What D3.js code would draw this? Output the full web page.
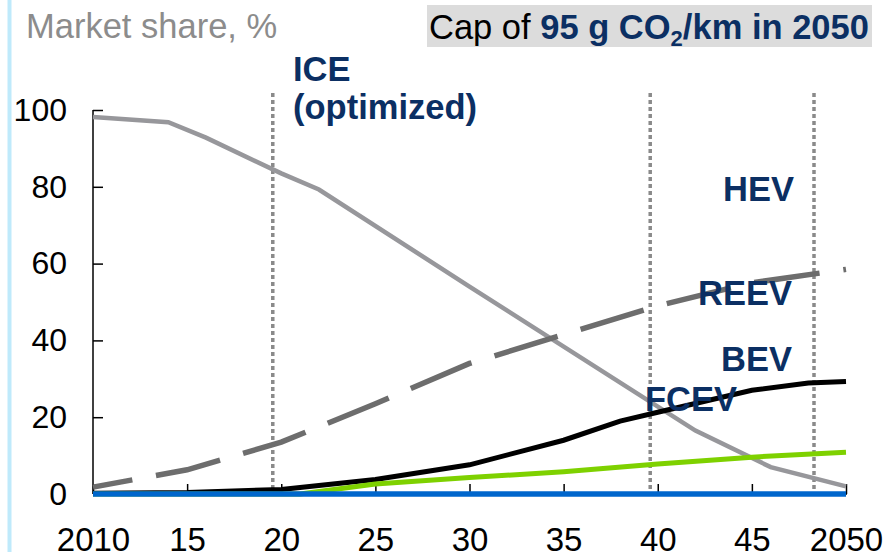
<!DOCTYPE html>
<html>
<head>
<meta charset="utf-8">
<script src="https://cdn.jsdelivr.net/npm/d3@7"></script>
<style>
  body { margin: 0; background: #fff; }
  svg { display: block; font-family: "Liberation Sans", Arial, sans-serif; }
</style>
</head>
<body>
<div id="container"></div>
<script>
const width = 888;
const height = 552;

// x ticks and their labels
const tickYears = [2010, 2015, 2020, 2025, 2030, 2035, 2040, 2045, 2050];
const tickLabels = ['2010', '15', '20', '25', '30', '35', '40', '45', '2050'];
const yTicks = [0, 20, 40, 60, 80, 100];

// vertical dotted marker lines (years)
const markerYears = [2019.55, 2039.6, 2048.3];

// series values, [year, share %]
const iceData = [[2010, 98.2], [2014, 96.8], [2016, 92.8], [2020, 83.5], [2022, 79.3],
                 [2030, 54], [2042, 16.5], [2046, 7], [2050, 2]];
const hevData = [[2010, 1.8], [2015, 6.3], [2020, 13.5], [2025, 23.5], [2030, 34],
                 [2035, 41.5], [2040, 49], [2045, 55], [2050, 58.5]];
const reevData = [[2010, 0.2], [2015, 0.4], [2020, 1.2], [2025, 3.8], [2030, 7.6],
                  [2035, 14], [2038, 19], [2040, 21.3], [2045, 27], [2048, 28.9], [2050, 29.3]];
const bevData = [[2010, 0], [2021, 0], [2025, 2.6], [2030, 4.3], [2035, 5.8],
                 [2040, 7.8], [2045, 9.6], [2050, 10.9]];
const fcevData = [[2010, 0], [2050, 0]];

const svg = d3.select('#container')
    .append('svg')
    .attr('width', width)
    .attr('height', height);

var xScale = d3.scaleLinear().domain([2010, 2050]).range([93, 846]);
var yScale = d3.scaleLinear().domain([0, 100]).range([494, 110]);

// light blue page rule on the left
svg.append('line')
    .attr('x1', 9.5).attr('x2', 9.5)
    .attr('y1', 0).attr('y2', height)
    .attr('stroke', '#bfeafb')
    .attr('stroke-width', 4);

// title
svg.append('text')
    .attr('x', 26)
    .attr('y', 38)
    .style('font-size', '34.5px')
    .style('fill', '#8c8c8c')
    .text('Market share, %');

svg.append('rect')
    .attr('x', 427).attr('y', 5)
    .attr('width', 445).attr('height', 42)
    .style('fill', '#dcdcdc');

var cap = svg.append('text')
    .attr('x', 429)
    .attr('y', 39)
    .style('font-size', '34.5px');
cap.append('tspan').style('fill', '#000').text('Cap of ');
cap.append('tspan').style('fill', '#0b2f63').style('font-weight', 'bold').text('95 g CO');
cap.append('tspan').style('fill', '#0b2f63').style('font-weight', 'bold')
    .style('font-size', '22px').attr('dy', 7).text('2');
cap.append('tspan').style('fill', '#0b2f63').style('font-weight', 'bold')
    .attr('dy', -7).text('/km in 2050');

// axes
var yAxis = d3.axisLeft(yScale).tickValues(yTicks).tickSize(-10).tickPadding(26).tickFormat(d3.format('d'));
var xAxis = d3.axisBottom(xScale).tickValues(tickYears).tickSize(-10).tickPadding(34)
    .tickFormat(function (d, i) { return tickLabels[i]; });

var gy = svg.append('g')
    .attr('transform', 'translate(' + xScale(2010) + ',0)')
    .call(yAxis);
gy.select('.domain').attr('d', 'M0,' + yScale(100) + 'V' + yScale(0)).attr('stroke-width', 1.5);

var gx = svg.append('g')
    .attr('transform', 'translate(0,' + yScale(0) + ')')
    .call(xAxis);

gy.selectAll('text').style('font-size', '32px');
gx.selectAll('text').style('font-size', '33px');
[gx, gy].forEach(function (g) {
    g.selectAll('text').style('fill', '#000')
        .style('font-family', '"Liberation Sans", Arial, sans-serif');
    g.selectAll('.tick line').attr('stroke', '#000').attr('stroke-width', 1.5);
});

// dotted markers
svg.selectAll('.marker')
    .data(markerYears)
    .enter()
    .append('line')
    .attr('class', 'marker')
    .attr('x1', function (d) { return xScale(d); })
    .attr('x2', function (d) { return xScale(d); })
    .attr('y1', 93)
    .attr('y2', yScale(0))
    .attr('stroke', '#8a8a8a')
    .attr('stroke-width', 3.5)
    .attr('stroke-dasharray', '4,3');

var line = d3.line()
    .x(function (d) { return xScale(d[0]); })
    .y(function (d) { return yScale(d[1]); });

const series = [
    { data: iceData, color: '#97979b', w: 4.5, dash: null },
    { data: hevData, color: '#6d6d6d', w: 5.5, dash: '66,24' },
    { data: reevData, color: '#000000', w: 5, dash: null },
    { data: bevData, color: '#7ed100', w: 5, dash: null },
    { data: fcevData, color: '#0066cc', w: 5.5, dash: null }
];

svg.selectAll('.series')
    .data(series)
    .enter()
    .append('path')
    .attr('class', 'series')
    .attr('d', function (d) { return line(d.data); })
    .attr('fill', 'none')
    .attr('stroke', function (d) { return d.color; })
    .attr('stroke-width', function (d) { return d.w; })
    .attr('stroke-dasharray', function (d) { return d.dash; })
    .attr('stroke-dashoffset', function (d) { return d.dash ? 26 : null; });

// series labels
const labels = [
    { text: 'ICE', x: 293, y: 81, anchor: 'start' },
    { text: '(optimized)', x: 293, y: 119, anchor: 'start' },
    { text: 'HEV', x: 794, y: 201, anchor: 'end' },
    { text: 'REEV', x: 792, y: 305, anchor: 'end' },
    { text: 'BEV', x: 792, y: 371, anchor: 'end' },
    { text: 'FCEV', x: 645, y: 411, anchor: 'start' }
];

svg.selectAll('.label')
    .data(labels)
    .enter()
    .append('text')
    .attr('class', 'label')
    .attr('x', function (d) { return d.x; })
    .attr('y', function (d) { return d.y; })
    .style('text-anchor', function (d) { return d.anchor; })
    .style('font-size', '34.5px')
    .style('font-weight', 'bold')
    .style('fill', '#0b2f63')
    .text(function (d) { return d.text; });
</script>
</body>
</html>
